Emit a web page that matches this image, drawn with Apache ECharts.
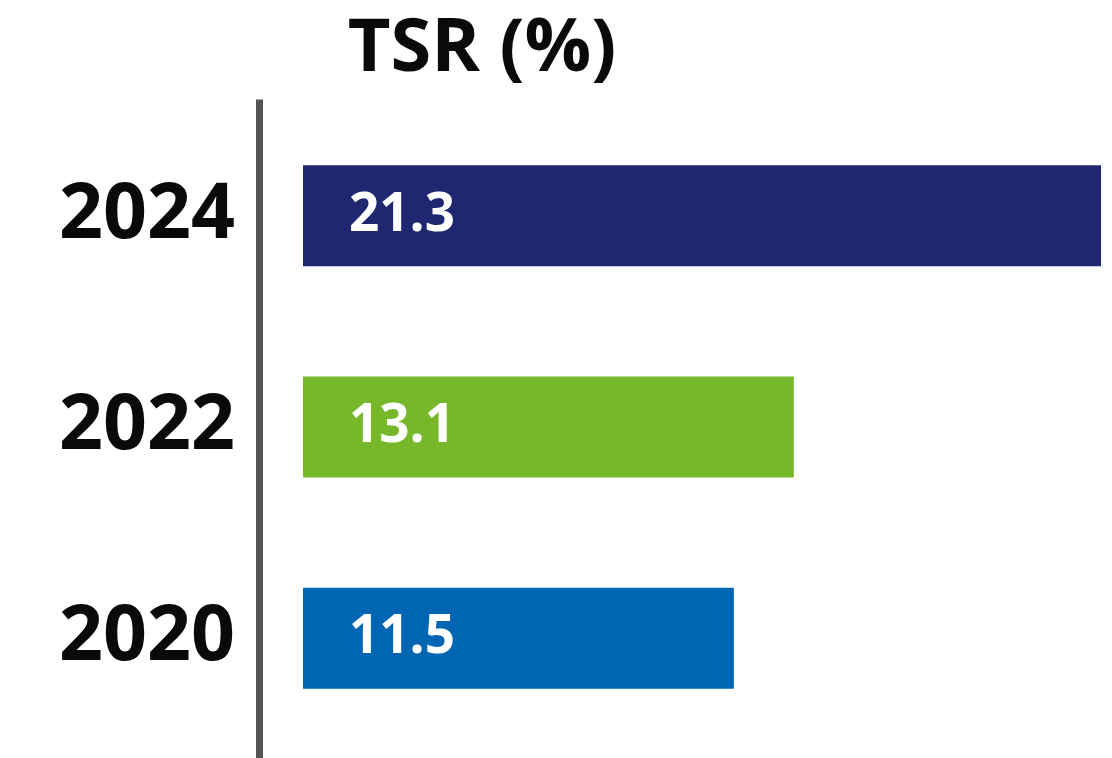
<!DOCTYPE html>
<html>
<head>
<meta charset="utf-8">
<script src="https://cdn.jsdelivr.net/npm/echarts@6/dist/echarts.min.js"></script>
<style>html,body{margin:0;padding:0;background:#fff}#c{width:1112px;height:758px}</style>
</head>
<body>
<div id="c"></div>
<script>
const titleText = 'TSR (%)';
const categories = ['2020', '2022', '2024'];
const values = [11.5, 13.1, 21.3];
const barColors = ['#0066B3', '#76B82A', '#1F2770'];

const FONT = '"Open Sans", "Noto Sans", sans-serif';
const chart = echarts.init(document.getElementById('c'), null, {renderer: 'canvas'});
chart.setOption({
  animation: false,
  backgroundColor: '#ffffff',
  title: {
    text: titleText,
    left: 477, top: 8, textAlign: 'center',
    textStyle: {fontFamily: FONT, fontWeight: 'bold', fontSize: 74, color: '#0a0a0a'}
  },
  grid: [
    {left: 303, right: 11, top: 110, bottom: 14, containLabel: false},
    {left: 259, right: 11, top: 99.5, bottom: 0, containLabel: false}
  ],
  xAxis: [
    {type: 'value', gridIndex: 0, min: 0, max: 21.3, show: false},
    {type: 'value', gridIndex: 1, min: 0, max: 1, show: false}
  ],
  yAxis: [
    {
      type: 'category', gridIndex: 0, data: categories,
      axisLine: {show: false}, axisTick: {show: false}, splitLine: {show: false},
      axisLabel: {margin: 68, fontFamily: FONT, fontWeight: 'bold', fontSize: 77, color: '#0a0a0a'}
    },
    {
      type: 'category', gridIndex: 1, data: [''],
      axisLine: {show: true, lineStyle: {color: '#555555', width: 7, cap: 'butt'}},
      axisTick: {show: false}, axisLabel: {show: false}, splitLine: {show: false}
    }
  ],
  series: [{
    type: 'bar',
    xAxisIndex: 0, yAxisIndex: 0,
    data: values.map((v, i) => ({value: v, itemStyle: {color: barColors[i]}})),
    barWidth: 101,
    label: {
      show: true, position: 'insideLeft', distance: 46,
      formatter: p => p.value.toFixed(1),
      fontFamily: FONT, fontWeight: 'bold', fontSize: 53, color: '#ffffff'
    }
  }]
});
</script>
</body>
</html>
